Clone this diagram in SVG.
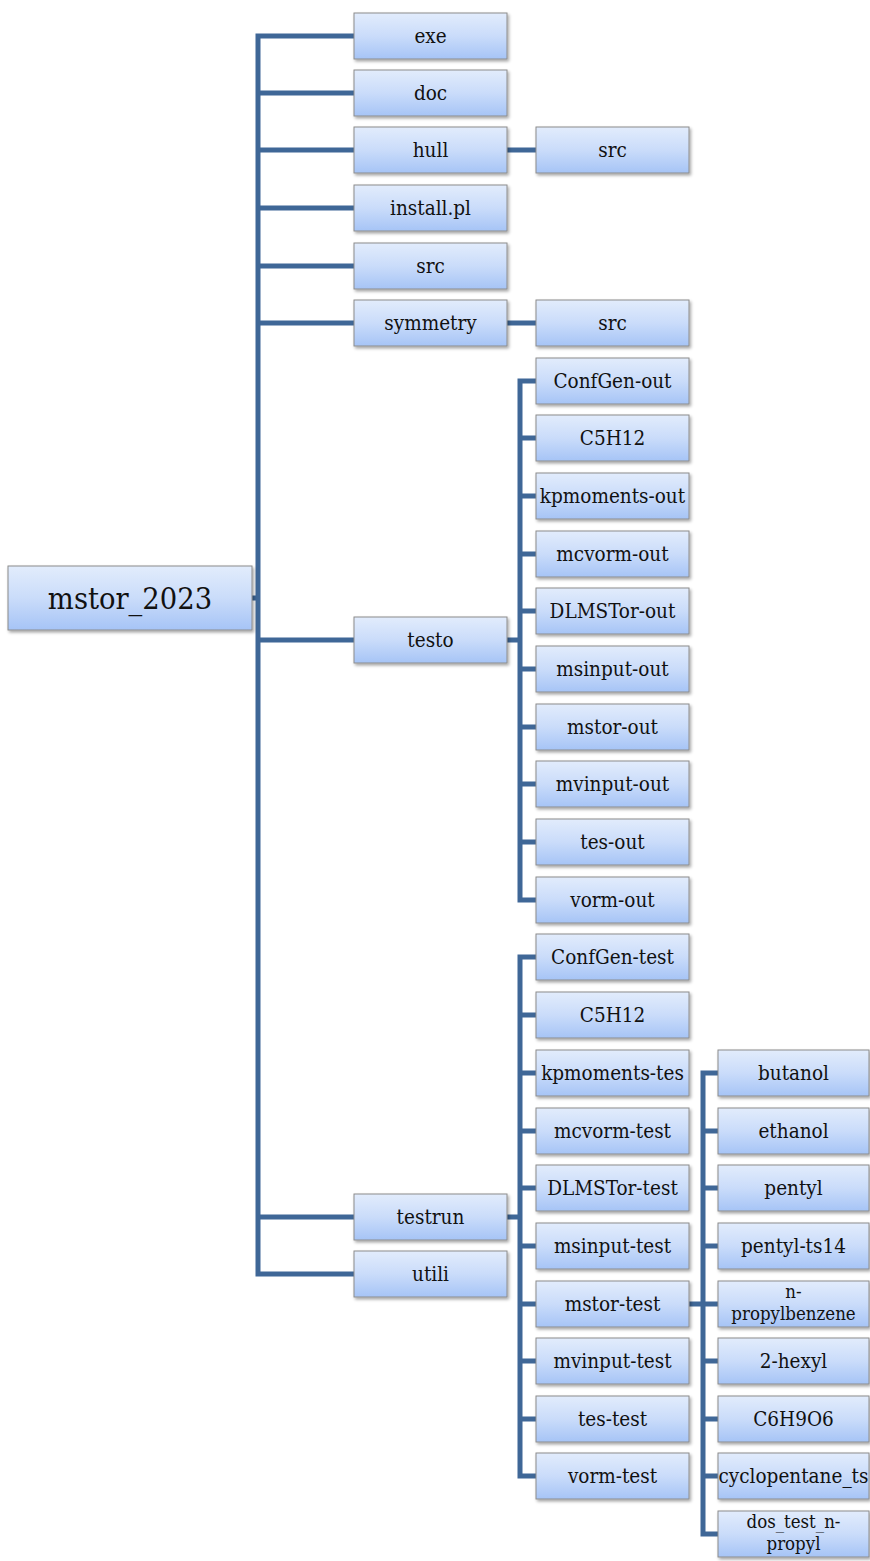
<svg xmlns="http://www.w3.org/2000/svg" width="870" height="1561" viewBox="0 0 870 1561">
<defs>
<linearGradient id="g" x1="0" y1="0" x2="0" y2="1">
<stop offset="0" stop-color="#e2ecfc"/>
<stop offset="0.5" stop-color="#cadcfa"/>
<stop offset="1" stop-color="#a6c4f6"/>
</linearGradient>
<filter id="sh" x="-10%" y="-20%" width="130%" height="160%">
<feDropShadow dx="1.5" dy="2" stdDeviation="1.5" flood-color="#000" flood-opacity="0.35"/>
</filter>
</defs>
<style>
.b{fill:url(#g);stroke:#8c8c8c;stroke-width:1;filter:url(#sh)}
.t{font-family:"DejaVu Serif","Liberation Serif",serif;font-stretch:condensed;font-size:20.5px;fill:#111;text-anchor:middle}
.t2{font-size:18.5px}
.c{fill:none;stroke:#3f6797;stroke-width:5;stroke-linecap:square}
</style>
<g id="connectors">
<path class="c" d="M252 598H258M258 36V1274M258 36H354M258 93H354M258 150H354M258 208H354M258 266H354M258 323H354M258 640H354M258 1217H354M258 1274H354"/>
<path class="c" d="M507 150H536M507 323H536"/>
<path class="c" d="M507 640H520M520 381V900M520 381H536M520 438H536M520 496H536M520 554H536M520 611H536M520 669H536M520 727H536M520 784H536M520 842H536M520 900H536"/>
<path class="c" d="M507 1217H520M520 957V1476M520 957H536M520 1015H536M520 1073H536M520 1131H536M520 1188H536M520 1246H536M520 1304H536M520 1361H536M520 1419H536M520 1476H536"/>
<path class="c" d="M689 1304H703M703 1073V1534M703 1073H718M703 1131H718M703 1188H718M703 1246H718M703 1304H718M703 1361H718M703 1419H718M703 1476H718M703 1534H718"/>
</g>
<g id="root"><rect class="b" x="8" y="566" width="244" height="64"/><text class="t" x="130" y="609" style="font-size:30.5px">mstor_2023</text></g>
<g id="exe"><rect class="b" x="354" y="13" width="153" height="46"/><text class="t" x="430.5" y="43">exe</text></g>
<g id="doc"><rect class="b" x="354" y="70" width="153" height="46"/><text class="t" x="430.5" y="100">doc</text></g>
<g id="hull"><rect class="b" x="354" y="127" width="153" height="46"/><text class="t" x="430.5" y="157">hull</text></g>
<g id="install"><rect class="b" x="354" y="185" width="153" height="46"/><text class="t" x="430.5" y="215">install.pl</text></g>
<g id="src"><rect class="b" x="354" y="243" width="153" height="46"/><text class="t" x="430.5" y="273">src</text></g>
<g id="symmetry"><rect class="b" x="354" y="300" width="153" height="46"/><text class="t" x="430.5" y="330">symmetry</text></g>
<g id="testo"><rect class="b" x="354" y="617" width="153" height="46"/><text class="t" x="430.5" y="647">testo</text></g>
<g id="testrun"><rect class="b" x="354" y="1194" width="153" height="46"/><text class="t" x="430.5" y="1224">testrun</text></g>
<g id="utili"><rect class="b" x="354" y="1251" width="153" height="46"/><text class="t" x="430.5" y="1281">utili</text></g>
<g id="hull-src"><rect class="b" x="536" y="127" width="153" height="46"/><text class="t" x="612.5" y="157">src</text></g>
<g id="symmetry-src"><rect class="b" x="536" y="300" width="153" height="46"/><text class="t" x="612.5" y="330">src</text></g>
<g id="o1"><rect class="b" x="536" y="358" width="153" height="46"/><text class="t" x="612.5" y="388">ConfGen-out</text></g>
<g id="o2"><rect class="b" x="536" y="415" width="153" height="46"/><text class="t" x="612.5" y="445">C5H12</text></g>
<g id="o3"><rect class="b" x="536" y="473" width="153" height="46"/><text class="t" x="612.5" y="503">kpmoments-out</text></g>
<g id="o4"><rect class="b" x="536" y="531" width="153" height="46"/><text class="t" x="612.5" y="561">mcvorm-out</text></g>
<g id="o5"><rect class="b" x="536" y="588" width="153" height="46"/><text class="t" x="612.5" y="618">DLMSTor-out</text></g>
<g id="o6"><rect class="b" x="536" y="646" width="153" height="46"/><text class="t" x="612.5" y="676">msinput-out</text></g>
<g id="o7"><rect class="b" x="536" y="704" width="153" height="46"/><text class="t" x="612.5" y="734">mstor-out</text></g>
<g id="o8"><rect class="b" x="536" y="761" width="153" height="46"/><text class="t" x="612.5" y="791">mvinput-out</text></g>
<g id="o9"><rect class="b" x="536" y="819" width="153" height="46"/><text class="t" x="612.5" y="849">tes-out</text></g>
<g id="o10"><rect class="b" x="536" y="877" width="153" height="46"/><text class="t" x="612.5" y="907">vorm-out</text></g>
<g id="r1"><rect class="b" x="536" y="934" width="153" height="46"/><text class="t" x="612.5" y="964">ConfGen-test</text></g>
<g id="r2"><rect class="b" x="536" y="992" width="153" height="46"/><text class="t" x="612.5" y="1022">C5H12</text></g>
<g id="r3"><rect class="b" x="536" y="1050" width="153" height="46"/><text class="t" x="612.5" y="1080">kpmoments-tes</text></g>
<g id="r4"><rect class="b" x="536" y="1108" width="153" height="46"/><text class="t" x="612.5" y="1138">mcvorm-test</text></g>
<g id="r5"><rect class="b" x="536" y="1165" width="153" height="46"/><text class="t" x="612.5" y="1195">DLMSTor-test</text></g>
<g id="r6"><rect class="b" x="536" y="1223" width="153" height="46"/><text class="t" x="612.5" y="1253">msinput-test</text></g>
<g id="r7"><rect class="b" x="536" y="1281" width="153" height="46"/><text class="t" x="612.5" y="1311">mstor-test</text></g>
<g id="r8"><rect class="b" x="536" y="1338" width="153" height="46"/><text class="t" x="612.5" y="1368">mvinput-test</text></g>
<g id="r9"><rect class="b" x="536" y="1396" width="153" height="46"/><text class="t" x="612.5" y="1426">tes-test</text></g>
<g id="r10"><rect class="b" x="536" y="1453" width="153" height="46"/><text class="t" x="612.5" y="1483">vorm-test</text></g>
<g id="m1"><rect class="b" x="718" y="1050" width="151" height="46"/><text class="t" x="793.5" y="1080">butanol</text></g>
<g id="m2"><rect class="b" x="718" y="1108" width="151" height="46"/><text class="t" x="793.5" y="1138">ethanol</text></g>
<g id="m3"><rect class="b" x="718" y="1165" width="151" height="46"/><text class="t" x="793.5" y="1195">pentyl</text></g>
<g id="m4"><rect class="b" x="718" y="1223" width="151" height="46"/><text class="t" x="793.5" y="1253">pentyl-ts14</text></g>
<g id="m5"><rect class="b" x="718" y="1281" width="151" height="46"/><text class="t t2" x="793.5" y="1298">n-</text><text class="t t2" x="793.5" y="1320">propylbenzene</text></g>
<g id="m6"><rect class="b" x="718" y="1338" width="151" height="46"/><text class="t" x="793.5" y="1368">2-hexyl</text></g>
<g id="m7"><rect class="b" x="718" y="1396" width="151" height="46"/><text class="t" x="793.5" y="1426">C6H9O6</text></g>
<g id="m8"><rect class="b" x="718" y="1453" width="151" height="46"/><text class="t" x="793.5" y="1483">cyclopentane_ts</text></g>
<g id="m9"><rect class="b" x="718" y="1511" width="151" height="46"/><text class="t t2" x="793.5" y="1528">dos_test_n-</text><text class="t t2" x="793.5" y="1550">propyl</text></g>
</svg>
